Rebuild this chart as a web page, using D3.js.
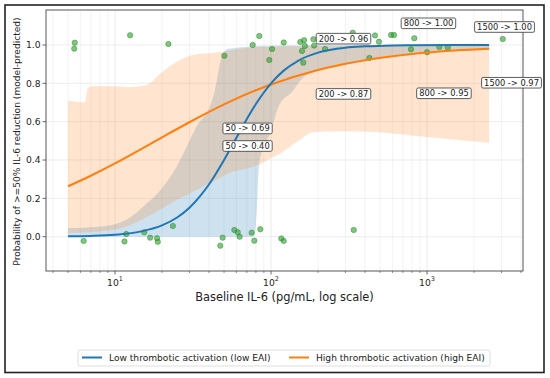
<!DOCTYPE html>
<html>
<head>
<meta charset="utf-8">
<script src="https://cdn.jsdelivr.net/npm/d3@7"></script>
<style>
  body { margin: 0; background: #fff; }
  text { font-family: "DejaVu Sans", sans-serif; fill: #222; }
</style>
</head>
<body>
<svg id="chart" width="550" height="378"></svg>
<script>
// model curves
var lowX = [5, 7, 10, 15, 20, 25, 30, 35, 40, 50, 60, 70, 80, 100, 120, 150, 200, 300, 400, 600, 800, 1500, 2500];
var lowP = [0.002, 0.004, 0.010, 0.029, 0.059, 0.100, 0.151, 0.210, 0.272, 0.400, 0.516, 0.614, 0.692, 0.800, 0.865, 0.919, 0.960, 0.986, 0.993, 0.998, 0.999, 1.000, 1.000];
var highX = [5, 7, 10, 15, 20, 30, 50, 80, 100, 200, 300, 400, 600, 800, 1500, 2500];
var highP = [0.263, 0.318, 0.382, 0.461, 0.518, 0.597, 0.690, 0.764, 0.794, 0.870, 0.902, 0.921, 0.941, 0.953, 0.971, 0.980];

// uncertainty bands
var bandX = [5, 6.4, 6.7, 7.2, 10, 12.5, 15.8, 19.4, 24.6, 32.6, 43, 48, 53, 69, 77, 80, 84, 100, 112, 138, 156, 186, 303, 680, 1000, 2500];
var lowLo = [0, 0, 0, 0, 0, 0, 0, 0, 0, 0, 0, 0, 0, 0, 0, 0.06, 0.38, 0.55, 0.68, 0.76, 0.82, 0.86, 0.90, 0.95, 0.96, 0.975];
var lowHi = [0.045, 0.047, 0.048, 0.05, 0.065, 0.10, 0.17, 0.24, 0.36, 0.56, 0.74, 0.93, 0.98, 0.99, 0.993, 0.994, 0.995, 0.996, 0.997, 0.998, 0.998, 0.999, 0.999, 1, 1, 1];
var highLo = [0.02, 0.022, 0.023, 0.025, 0.037, 0.06, 0.10, 0.14, 0.19, 0.24, 0.29, 0.31, 0.33, 0.355, 0.365, 0.37, 0.375, 0.41, 0.43, 0.48, 0.51, 0.545, 0.55, 0.535, 0.52, 0.49];
var highHi = [0.71, 0.70, 0.775, 0.785, 0.785, 0.78, 0.79, 0.85, 0.91, 0.95, 0.96, 0.965, 0.97, 0.985, 0.987, 0.988, 0.99, 0.99, 0.992, 0.993, 0.994, 0.995, 0.996, 0.997, 0.997, 0.998];

// observed patients (baseline IL-6, response)
var obsX = [5.52, 5.48, 12.5, 22.0, 6.30, 11.5, 11.8, 15.4, 16.8, 18.6, 18.8, 23.5, 50.2, 76.3, 84.1, 101.5, 97.5, 120.6,
    154, 163, 165, 158, 161, 187, 189, 222, 334, 427, 464, 492, 588, 614, 829, 789, 1000, 1199, 1358, 3057,
    58.2, 61.2, 62.9, 49.0, 47.3, 75.2, 85.4, 78.1, 116.4, 120.6, 339];
var obsY = [1.012, 0.981, 1.051, 1.005, -0.022, -0.025, 0.014, 0.023, -0.005, -0.008, -0.027, 0.056, 0.944, 1.0, 1.047, 0.979, 0.922, 1.013,
    1.016, 1.025, 0.995, 0.969, 0.908, 1.030, 0.997, 0.979, 1.064, 0.932, 1.050, 1.017, 1.052, 1.052, 1.035, 0.978, 0.962, 0.990, 0.987, 1.031,
    0.035, 0.023, 0.0, -0.005, -0.047, 0.021, 0.039, -0.021, -0.009, -0.022, 0.035];

// annotations
var annX = [50, 200, 800, 1500];
var annLow = [0.40, 0.96, 1.00, 1.00];
var annHigh = [0.69, 0.87, 0.95, 0.97];
var lowOff = [[23.5, -14], [25.5, -14], [16.5, -21.7], [50, -18]];
var highOff = [[23.5, 24], [25.5, 24], [32, 38.7], [57, 32]];

var yTicks = [0.0, 0.2, 0.4, 0.6, 0.8, 1.0];
var blue = "#1f77b4", orange = "#ff7f0e", green = "#2ca02c";

var svg = d3.select("#chart");
var pL = 46, pR = 523, pT = 10, pB = 271;

var x = d3.scaleLog().domain([3.612, 4121]).range([pL, pR]);
var y = d3.scaleLinear().domain([-0.179, 1.1826]).range([pB, pT]);

svg.append("rect").attr("x", 5).attr("y", 5).attr("width", 539).attr("height", 367.5)
    .attr("fill", "#fff").attr("stroke", "#222").attr("stroke-width", 1.6);

svg.append("clipPath").attr("id", "plotclip").append("rect")
    .attr("x", pL).attr("y", pT).attr("width", pR - pL).attr("height", pB - pT);

// grid
var majors = [10, 100, 1000];
var minors = [];
[1, 10, 100, 1000].forEach(function (d) {
    for (var k = 2; k <= 9; k++) {
        var v = d * k;
        if (v > x.domain()[0] && v < x.domain()[1]) minors.push(v);
    }
});
var grid = svg.append("g");
grid.selectAll(".vmin").data(minors).enter().append("line")
    .attr("x1", function (d) { return x(d); }).attr("x2", function (d) { return x(d); })
    .attr("y1", pT).attr("y2", pB)
    .attr("stroke", "#ebebeb").attr("stroke-width", 0.6);
grid.selectAll(".vmaj").data(majors).enter().append("line")
    .attr("x1", function (d) { return x(d); }).attr("x2", function (d) { return x(d); })
    .attr("y1", pT).attr("y2", pB)
    .attr("stroke", "#e2e2e2").attr("stroke-width", 0.7);
grid.selectAll(".h").data(yTicks).enter().append("line")
    .attr("x1", pL).attr("x2", pR)
    .attr("y1", function (d) { return y(d); }).attr("y2", function (d) { return y(d); })
    .attr("stroke", "#e6e6e6").attr("stroke-width", 0.7);

var plot = svg.append("g").attr("clip-path", "url(#plotclip)");

function band(lo, hi) {
    return d3.area()
        .x(function (d, i) { return x(bandX[i]); })
        .y0(function (d, i) { return y(lo[i]); })
        .y1(function (d, i) { return y(hi[i]); })
        .curve(d3.curveMonotoneX)(bandX);
}
plot.append("path").attr("d", band(lowLo, lowHi)).attr("fill", blue).attr("fill-opacity", 0.22);
plot.append("path").attr("d", band(highLo, highHi)).attr("fill", orange).attr("fill-opacity", 0.2);

plot.selectAll(".pt").data(obsX).enter().append("circle")
    .attr("cx", function (d) { return x(d); })
    .attr("cy", function (d, i) { return y(obsY[i]); })
    .attr("r", 2.7)
    .attr("fill", green).attr("fill-opacity", 0.6)
    .attr("stroke", "#1e7a1e").attr("stroke-opacity", 0.5).attr("stroke-width", 0.8);

function curve(xs, ps) {
    return d3.line()
        .x(function (d, i) { return x(xs[i]); })
        .y(function (d, i) { return y(ps[i]); })
        .curve(d3.curveMonotoneX)(xs);
}
plot.append("path").attr("d", curve(highX, highP)).attr("fill", "none").attr("stroke", orange).attr("stroke-width", 2);
plot.append("path").attr("d", curve(lowX, lowP)).attr("fill", "none").attr("stroke", blue).attr("stroke-width", 2);

// spines
svg.append("rect").attr("x", pL).attr("y", pT).attr("width", pR - pL).attr("height", pB - pT)
    .attr("fill", "none").attr("stroke", "#444").attr("stroke-width", 0.9);

// ticks
var ax = svg.append("g");
ax.selectAll(".tmin").data(minors).enter().append("line")
    .attr("x1", function (d) { return x(d); }).attr("x2", function (d) { return x(d); })
    .attr("y1", pB).attr("y2", pB + 2).attr("stroke", "#444").attr("stroke-width", 0.6);
ax.selectAll(".tmaj").data(majors).enter().append("line")
    .attr("x1", function (d) { return x(d); }).attr("x2", function (d) { return x(d); })
    .attr("y1", pB).attr("y2", pB + 3.5).attr("stroke", "#444").attr("stroke-width", 0.8);
var xl = ax.selectAll(".xl").data(majors).enter().append("text")
    .attr("x", function (d) { return x(d); }).attr("y", 286)
    .attr("text-anchor", "middle").style("font-size", "9.2px");
xl.append("tspan").text("10");
xl.append("tspan").attr("dy", -5).style("font-size", "6.5px")
    .text(function (d) { return Math.round(Math.log10(d)); });

ax.selectAll(".ty").data(yTicks).enter().append("line")
    .attr("x1", pL - 3.5).attr("x2", pL)
    .attr("y1", function (d) { return y(d); }).attr("y2", function (d) { return y(d); })
    .attr("stroke", "#444").attr("stroke-width", 0.8);
ax.selectAll(".yl").data(yTicks).enter().append("text")
    .attr("x", pL - 5.5).attr("y", function (d) { return y(d); }).attr("dy", "0.36em")
    .attr("text-anchor", "end").style("font-size", "9.2px")
    .text(function (d) { return d.toFixed(1); });

svg.append("text").attr("x", (pL + pR) / 2).attr("y", 301)
    .attr("text-anchor", "middle").style("font-size", "11.4px")
    .text("Baseline IL-6 (pg/mL, log scale)");
svg.append("text").attr("transform", "translate(19.5," + ((pT + pB) / 2 + 1) + ") rotate(-90)")
    .attr("text-anchor", "middle").style("font-size", "9.1px")
    .text("Probability of >=50% IL-6 reduction (model-predicted)");

// annotation boxes
function annotate(xs, ps, offs) {
    xs.forEach(function (v, i) {
        var cx = x(v) + offs[i][0], cy = y(ps[i]) + offs[i][1];
        var g = svg.append("g");
        var t = g.append("text").attr("x", cx).attr("y", cy).attr("dy", "0.36em")
            .attr("text-anchor", "middle").style("font-size", "8.3px")
            .text(v + " -> " + ps[i].toFixed(2));
        var bb = t.node().getBBox();
        g.insert("rect", "text")
            .attr("x", bb.x - 2.5).attr("y", cy - 5.3)
            .attr("width", bb.width + 5).attr("height", 10.6)
            .attr("rx", 1.5).attr("fill", "#fff").attr("stroke", "#333").attr("stroke-width", 0.8);
    });
}
annotate(annX, annLow, lowOff);
annotate(annX, annHigh, highOff);

// legend
var lg = svg.append("g");
lg.append("rect").attr("x", 78).attr("y", 350).attr("width", 412).attr("height", 16)
    .attr("rx", 2).attr("fill", "#fff").attr("stroke", "#d6d6d6").attr("stroke-width", 0.8);
var items = [
    { name: "Low thrombotic activation (low EAI)", color: blue, x0: 82 },
    { name: "High thrombotic activation (high EAI)", color: orange, x0: 289 }
];
items.forEach(function (it) {
    lg.append("line").attr("x1", it.x0).attr("x2", it.x0 + 20).attr("y1", 357.5).attr("y2", 357.5)
        .attr("stroke", it.color).attr("stroke-width", 2);
    lg.append("text").attr("x", it.x0 + 27).attr("y", 357.5).attr("dy", "0.36em")
        .style("font-size", "9.1px").text(it.name);
});
</script>
</body>
</html>
